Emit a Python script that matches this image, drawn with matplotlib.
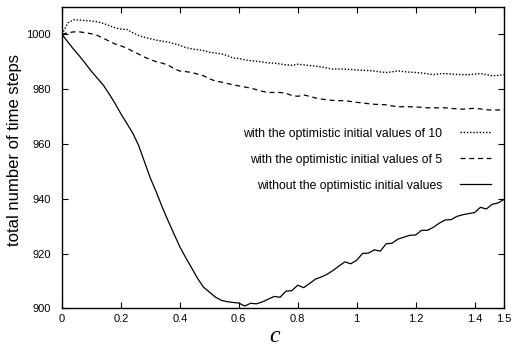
import matplotlib
matplotlib.use("Agg")
import matplotlib.pyplot as plt
import numpy as np

plt.rcParams["font.family"] = ["Liberation Sans", "DejaVu Sans"]

# --- data ------------------------------------------------------------------
c_values = np.round(np.arange(76) * 0.02, 2)  # 0.00 .. 1.50

steps_opt10 = [
    1000.0, 1004.2, 1005.3, 1005.2, 1005.0, 1004.9, 1004.6, 1004.0, 1003.2, 1002.4,
    1001.9, 1001.8, 1000.6, 999.6, 998.9, 998.4, 997.9, 997.5, 997.2, 996.6,
    996.0, 995.2, 994.7, 994.4, 994.1, 993.5, 993.2, 992.9, 992.3, 991.4,
    991.2, 990.7, 990.4, 990.2, 989.9, 989.6, 989.5, 989.2, 988.9, 988.7,
    989.1, 988.9, 988.6, 988.4, 988.1, 987.7, 987.3, 987.4, 987.3, 987.2,
    987.0, 986.9, 986.8, 986.6, 986.3, 986.1, 986.3, 986.7, 986.4, 986.2,
    986.1, 985.9, 985.6, 985.3, 985.6, 985.7, 985.5, 985.4, 985.3, 985.3,
    985.5, 985.7, 985.3, 984.9, 985.0, 985.3,
]

steps_opt5 = [
    1000.0, 1000.6, 1000.9, 1000.9, 1000.6, 1000.2, 999.6, 998.6, 997.5, 996.5,
    995.8, 995.0, 993.8, 992.8, 991.7, 990.8, 990.0, 989.5, 988.8, 987.5,
    986.6, 986.4, 986.1, 985.5, 984.9, 983.8, 983.0, 982.6, 982.1, 981.6,
    981.2, 980.8, 980.4, 979.8, 979.2, 978.8, 978.8, 978.8, 978.5, 977.7,
    977.4, 977.9, 977.4, 976.8, 976.4, 976.1, 975.9, 975.8, 975.8, 975.5,
    975.2, 975.0, 974.7, 974.5, 974.4, 974.3, 973.9, 973.6, 973.6, 973.6,
    973.5, 973.4, 973.2, 973.2, 973.2, 973.2, 973.0, 972.8, 972.7, 972.9,
    973.0, 972.8, 972.5, 972.4, 972.4, 972.4,
]

steps_plain = [
    1000.0, 997.2, 994.5, 992.0, 989.3, 986.5, 984.0, 981.5, 978.3, 974.8,
    971.0, 967.5, 964.0, 959.5, 953.5, 947.5, 942.5, 937.0, 932.0, 927.2,
    922.5, 918.5, 914.8, 911.0, 907.8, 906.0, 904.2, 903.0, 902.5, 902.2,
    902.0, 900.9, 901.9, 901.7, 902.4, 903.4, 904.4, 904.1, 906.3, 906.5,
    908.5, 907.6, 909.1, 910.7, 911.5, 912.5, 913.9, 915.5, 917.0, 916.3,
    917.6, 920.1, 920.2, 921.4, 920.9, 923.6, 923.8, 925.3, 926.0, 926.7,
    926.8, 928.5, 928.5, 929.6, 931.1, 932.3, 932.4, 933.6, 934.2, 934.6,
    935.0, 936.9, 936.3, 938.0, 938.5, 939.8,
]

labels = [
    "with the optimistic initial values of 10",
    "with the optimistic initial values of 5",
    "without the optimistic initial values",
]

x_ticks = [0, 0.2, 0.4, 0.6, 0.8, 1.0, 1.2, 1.4, 1.5]
x_tick_labels = ["0", "0.2", "0.4", "0.6", "0.8", "1", "1.2", "1.4", "1.5"]
y_ticks = [900, 920, 940, 960, 980, 1000]

# --- figure ----------------------------------------------------------------
fig = plt.figure(figsize=(5.14, 3.47), dpi=100)
ax = fig.add_axes([0.1206, 0.111, 0.86, 0.869])

ax.plot(c_values, steps_opt10, color="black", lw=1.0, ls=(0, (1, 1.3)), label=labels[0])
ax.plot(c_values, steps_opt5, color="black", lw=0.9, ls=(0, (4, 3)), label=labels[1])
ax.plot(c_values, steps_plain, color="black", lw=0.9, label=labels[2])

ax.set_xlim(0, 1.5)
ax.set_ylim(900, 1010)
ax.set_xticks(x_ticks)
ax.set_xticklabels(x_tick_labels)
ax.set_yticks(y_ticks)
ax.tick_params(direction="in", length=4, width=0.8, top=True, right=True,
               labelsize=8)
ax.tick_params(axis="y", pad=8)
ax.tick_params(axis="x", pad=4)
for sp in ax.spines.values():
    sp.set_linewidth(1.0)

ax.set_ylabel("total number of time steps", fontsize=12)
ax.yaxis.set_label_coords(-0.09, 0.526)
fig.text(275 / 514, 1 - 337 / 347, "c", fontsize=17, style="italic",
         family="Liberation Serif", ha="center", va="center")

ax.legend(loc="upper right", bbox_to_anchor=(0.985, 0.62), frameon=False,
          markerfirst=False, fontsize=8.8, handlelength=2.6,
          handletextpad=1.4, labelspacing=1.15, borderpad=0)

fig.savefig("out.png", dpi=100)
